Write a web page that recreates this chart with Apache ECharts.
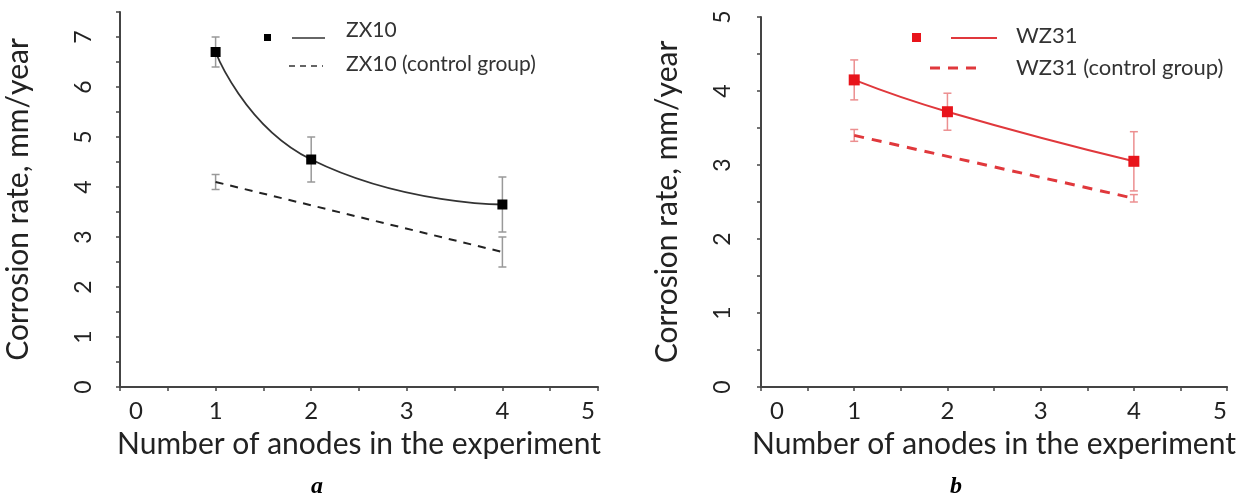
<!DOCTYPE html>
<html>
<head>
<meta charset="utf-8">
<script src="https://cdn.jsdelivr.net/npm/echarts@6/dist/echarts.min.js"></script>
<style>
  html, body { margin: 0; padding: 0; background: #fff; }
  #main { width: 1239px; height: 499px; }
</style>
</head>
<body>
<div id="main"></div>
<script>
// panel a - ZX10
var zxX = [1, 2, 4];
var zxRate = [6.7, 4.55, 3.65];
var zxErr = [0.3, 0.45, 0.55];
var zxCtrlX = [1, 4];
var zxCtrlRate = [4.1, 2.7];
var zxCtrlErr = [0.15, 0.3];

// panel b - WZ31
var wzX = [1, 2, 4];
var wzRate = [4.15, 3.72, 3.05];
var wzErr = [0.27, 0.25, 0.4];
var wzCtrlX = [1, 4];
var wzCtrlRate = [3.4, 2.55];
var wzCtrlErr = [0.08, 0.05];

var xTicks = [0, 1, 2, 3, 4, 5];
var font = 'Lato';
var axisColor = '#444';
var textColor = '#222';

function pairs(xs, ys) {
  return xs.map(function (x, i) { return [x, ys[i]]; });
}
function errData(xs, ys, es) {
  return xs.map(function (x, i) { return [x, ys[i] - es[i], ys[i] + es[i]]; });
}

// error bar drawn through the axis scale
function errBar(color) {
  return function (params, api) {
    var lo = api.coord([api.value(0), api.value(1)]);
    var hi = api.coord([api.value(0), api.value(2)]);
    var w = 4;
    var st = { stroke: color, lineWidth: 1.5 };
    return {
      type: 'group',
      children: [
        { type: 'line', shape: { x1: lo[0], y1: lo[1], x2: hi[0], y2: hi[1] }, style: st },
        { type: 'line', shape: { x1: lo[0] - w, y1: lo[1], x2: lo[0] + w, y2: lo[1] }, style: st },
        { type: 'line', shape: { x1: hi[0] - w, y1: hi[1], x2: hi[0] + w, y2: hi[1] }, style: st }
      ]
    };
  };
}

function xAxisFor(idx, endPad) {
  var lbl = { fontFamily: font, fontSize: 24, color: textColor };
  return {
    gridIndex: idx,
    type: 'value',
    min: 0, max: 5, interval: 0.5,
    name: 'Number of anodes in the experiment',
    nameLocation: 'middle',
    nameGap: 42,
    nameTextStyle: { fontFamily: font, fontSize: 30, color: textColor },
    axisLine: { lineStyle: { color: axisColor, width: 2 } },
    axisTick: { length: 4, lineStyle: { color: axisColor, width: 1.5 } },
    splitLine: { show: false },
    axisLabel: {
      margin: 12, fontFamily: font, fontSize: 24, color: textColor,
      formatter: function (v) {
        if (xTicks.indexOf(v) < 0) return '';
        if (v === 0) return '{first|0}';
        if (v === 5) return '{last|5}';
        return String(v);
      },
      rich: {
        first: Object.assign({ padding: [0, 0, 0, 32] }, lbl),
        last: Object.assign({ padding: [0, endPad, 0, 0] }, lbl)
      }
    }
  };
}

function yAxisFor(idx, max, gap, margin) {
  return {
    gridIndex: idx,
    type: 'value',
    min: 0, max: max, interval: 0.5,
    name: 'Corrosion rate, mm/year',
    nameLocation: 'middle',
    nameGap: gap,
    nameTextStyle: { fontFamily: font, fontSize: 30, color: textColor },
    axisLine: { show: true, lineStyle: { color: axisColor, width: 2 } },
    axisTick: { show: true, length: 4, lineStyle: { color: axisColor, width: 1.5 } },
    splitLine: { show: false },
    axisLabel: {
      rotate: 90, margin: margin, fontFamily: font, fontSize: 23, color: textColor,
      formatter: function (v) { return Number.isInteger(v) ? String(v) : ''; }
    }
  };
}

var option = {
  animation: false,
  backgroundColor: '#fff',
  grid: [
    { left: 120, right: 641, top: 12, bottom: 112 },
    { left: 761, right: 7, top: 17, bottom: 112 }
  ],
  xAxis: [xAxisFor(0, 20), xAxisFor(1, 14)],
  yAxis: [yAxisFor(0, 7.5, 87, 25), yAxisFor(1, 5, 79, 27)],
  graphic: [
    // legend a
    { type: 'rect', shape: { x: 264, y: 34, width: 7, height: 7 }, style: { fill: '#000' } },
    { type: 'line', shape: { x1: 292, y1: 38, x2: 325, y2: 38 }, style: { stroke: '#333', lineWidth: 1.5 } },
    { type: 'line', shape: { x1: 289, y1: 66, x2: 323, y2: 66 }, style: { stroke: '#333', lineWidth: 1.5, lineDash: [6, 5] } },
    { type: 'text', x: 346, y: 30, style: { text: 'ZX10', font: '21px Lato', fill: '#333', verticalAlign: 'middle' } },
    { type: 'text', x: 346, y: 64, style: { text: 'ZX10 (control group)', font: '21px Lato', fill: '#333', verticalAlign: 'middle' } },
    // legend b
    { type: 'rect', shape: { x: 912, y: 33, width: 9, height: 9 }, style: { fill: '#e8141b' } },
    { type: 'line', shape: { x1: 951, y1: 38, x2: 997, y2: 38 }, style: { stroke: '#e0383c', lineWidth: 2 } },
    { type: 'line', shape: { x1: 930, y1: 68, x2: 981, y2: 68 }, style: { stroke: '#e0383c', lineWidth: 3, lineDash: [10, 8] } },
    { type: 'text', x: 1016, y: 36, style: { text: 'WZ31', font: '22px Lato', fill: '#333', verticalAlign: 'middle' } },
    { type: 'text', x: 1016, y: 68, style: { text: 'WZ31 (control group)', font: '22px Lato', fill: '#333', verticalAlign: 'middle' } },
    // panel captions
    { type: 'text', x: 317, y: 487, style: { text: 'a', font: 'italic bold 24px "Liberation Serif"', fill: '#000', align: 'center', verticalAlign: 'middle' } },
    { type: 'text', x: 956, y: 487, style: { text: 'b', font: 'italic bold 24px "Liberation Serif"', fill: '#000', align: 'center', verticalAlign: 'middle' } }
  ],
  series: [
    {
      name: 'ZX10 (control group)', type: 'line', xAxisIndex: 0, yAxisIndex: 0,
      data: pairs(zxCtrlX, zxCtrlRate), showSymbol: false,
      lineStyle: { color: '#222', width: 2, type: [8, 7] }, z: 2
    },
    {
      name: 'ZX10 err', type: 'custom', xAxisIndex: 0, yAxisIndex: 0,
      data: errData(zxX, zxRate, zxErr), renderItem: errBar('#999'), z: 1
    },
    {
      name: 'ZX10 ctrl err', type: 'custom', xAxisIndex: 0, yAxisIndex: 0,
      data: errData(zxCtrlX, zxCtrlRate, zxCtrlErr), renderItem: errBar('#999'), z: 1
    },
    {
      name: 'ZX10', type: 'line', xAxisIndex: 0, yAxisIndex: 0,
      data: pairs(zxX, zxRate), smooth: 0.55,
      symbol: 'rect', symbolSize: 10,
      itemStyle: { color: '#000' },
      lineStyle: { color: '#333', width: 1.8 }, z: 3
    },
    {
      name: 'WZ31 (control group)', type: 'line', xAxisIndex: 1, yAxisIndex: 1,
      data: pairs(wzCtrlX, wzCtrlRate), showSymbol: false,
      lineStyle: { color: '#e0383c', width: 3, type: [10, 8] }, z: 2
    },
    {
      name: 'WZ31 err', type: 'custom', xAxisIndex: 1, yAxisIndex: 1,
      data: errData(wzX, wzRate, wzErr), renderItem: errBar('#ec8f90'), z: 1
    },
    {
      name: 'WZ31 ctrl err', type: 'custom', xAxisIndex: 1, yAxisIndex: 1,
      data: errData(wzCtrlX, wzCtrlRate, wzCtrlErr), renderItem: errBar('#ec8f90'), z: 1
    },
    {
      name: 'WZ31', type: 'line', xAxisIndex: 1, yAxisIndex: 1,
      data: pairs(wzX, wzRate), smooth: 0.5,
      symbol: 'rect', symbolSize: 11,
      itemStyle: { color: '#e8141b' },
      lineStyle: { color: '#e0383c', width: 2 }, z: 3
    }
  ]
};

var chart = echarts.init(document.getElementById('main'));
chart.setOption(option);
</script>
</body>
</html>
